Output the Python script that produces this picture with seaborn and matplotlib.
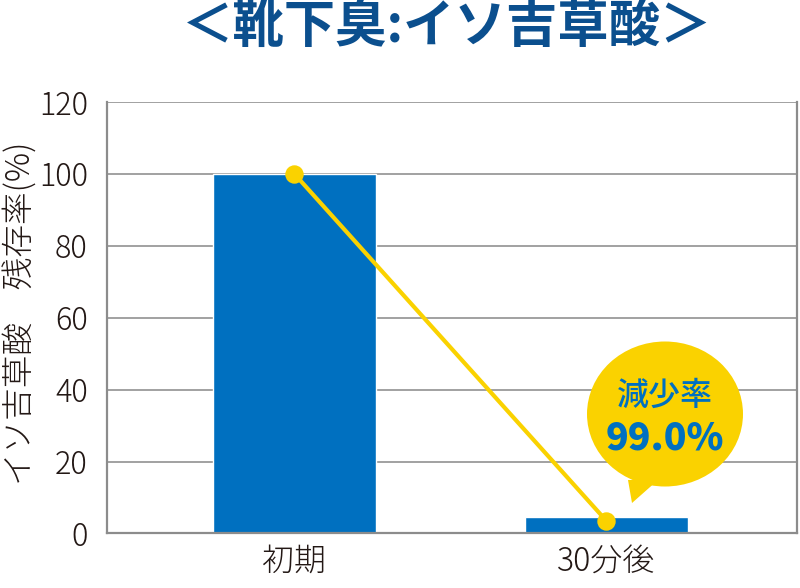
import matplotlib
matplotlib.use("Agg")
import matplotlib.pyplot as plt
from matplotlib.patches import Ellipse, Polygon
import seaborn as sns
import pandas as pd

categories = ["初期", "30分後"]
residual = [100, 4.6]
trend = [100, 3.5]
y_ticks = [0, 20, 40, 60, 80, 100, 120]
title = "＜靴下臭:イソ吉草酸＞"
ylabel = "イソ吉草酸　残存率(%)"
bubble_top = "減少率"
bubble_value = "99.0%"

BLUE = "#0070c0"
YELLOW = "#fad200"
TITLE_BLUE = "#0b4f8e"
GRID = "#9a9a9a"
TEXT = "#231815"

sns.set_theme(style="white")
plt.rcParams["font.family"] = ["Noto Sans CJK JP", "DejaVu Sans"]

df = pd.DataFrame({"cat": categories, "residual": residual, "trend": trend})

fig = plt.figure(figsize=(8, 5.88), dpi=100)
ax = fig.add_axes([0.134, 0.0927, 0.862, 0.7338])

sns.barplot(data=df, x="cat", y="residual", color=BLUE, saturation=1,
            width=0.52, ax=ax, zorder=2)
sns.pointplot(data=df, x="cat", y="trend", color=YELLOW, markers="o",
              markersize=11, linewidth=3, ax=ax, zorder=3)
for coll in ax.collections:
    coll.set_zorder(4)
for ln in ax.lines:
    ln.set_zorder(3)

ax.set_xlim(-0.6, 1.61)
ax.set_ylim(0, 120)
ax.set_yticks(y_ticks)
ax.yaxis.grid(True, color=GRID, linewidth=1.3, zorder=0)
ax.set_axisbelow(True)

for side in ["left", "bottom", "right", "top"]:
    ax.spines[side].set_visible(True)
    ax.spines[side].set_color("#8c8c8c")
    ax.spines[side].set_linewidth(1.6)
ax.spines["top"].set_visible(False)

ax.tick_params(axis="y", which="major", direction="in", length=3, width=3,
               color="#8c8c8c", labelsize=22, labelcolor=TEXT, pad=14)
ax.tick_params(axis="x", which="major", length=0, labelsize=23,
               labelcolor=TEXT, pad=8)
for lab in ax.get_yticklabels() + ax.get_xticklabels():
    lab.set_fontweight("light")

ax.set_xlabel("")
ax.set_ylabel(ylabel, fontsize=23.5, color=TEXT, fontweight="light")
ax.yaxis.set_label_coords(-0.1, 0.51)

fig.text(0.559, 0.955, title, ha="center", va="center", fontsize=37,
         fontweight="bold", color=TITLE_BLUE)

# speech bubble
bx, by = 665 / 800, 1 - 414 / 588
fig.patches.append(Ellipse((bx, by), 156 / 800, 145 / 588,
                           transform=fig.transFigure, facecolor=YELLOW,
                           edgecolor="none", zorder=5))
fig.patches.append(Polygon([(628 / 800, 1 - 480 / 588), (658 / 800, 1 - 480 / 588),
                            (632 / 800, 1 - 503 / 588)],
                           closed=True, transform=fig.transFigure,
                           facecolor=YELLOW, edgecolor="none", zorder=5))
fig.text(bx, 1 - 396 / 588, bubble_top, ha="center", va="center",
         fontsize=23, fontweight="medium", color=BLUE, zorder=6)
fig.text(bx, 1 - 438 / 588, bubble_value, ha="center", va="center",
         fontsize=27, fontweight="heavy", color=BLUE, zorder=6)

fig.savefig("out.png", dpi=100)
